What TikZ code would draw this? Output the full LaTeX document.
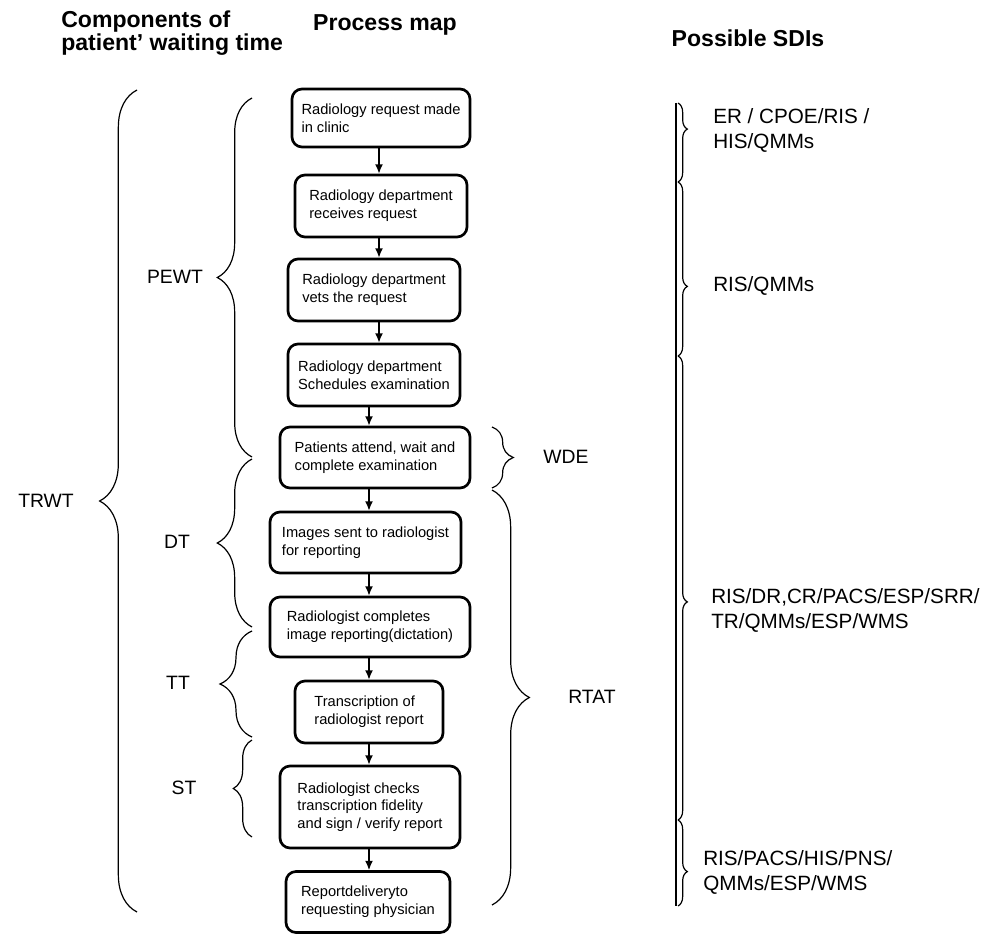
\documentclass[tikz,border=0pt]{standalone}
\usepackage{fontspec}
\setmainfont{Liberation Sans}
\usetikzlibrary{arrows.meta,decorations.pathreplacing}

\tikzset{
  proc/.style={draw, rounded corners=7.5pt, line width=2pt, align=left,
    font=\fontsize{11}{13.3}\selectfont, inner sep=0pt},
  flow/.style={line width=1.1pt, -{Latex[length=7pt,width=6pt]}},
  brc/.style={decorate, line width=0.9pt, decoration={brace, amplitude=#1}},
  tag/.style={font=\fontsize{14.5}{17}\selectfont, inner sep=0pt},
  sdi/.style={font=\fontsize{15.5}{18.75}\selectfont, inner sep=0pt, align=left, anchor=west},
  head/.style={font=\fontsize{17.3}{17}\selectfont\bfseries, inner sep=0pt, align=left}
}

\begin{document}
\begin{tikzpicture}[x=0.75pt, y=-0.75pt]
    \useasboundingbox (0,0) rectangle (1003,934);

    % Headings
    \node[head, anchor=west] (hcomp) at (61,33) {Components of\\patient’ waiting time};
    \node[head] (hmap) at (385,25) {Process map};
    \node[head] (hsdi) at (748,38) {Possible SDIs};

    % Process map
    \node[proc, minimum width=133.5pt, minimum height=43.5pt] (b1) at (381,118) {Radiology request made\\in clinic};
    \node[proc, minimum width=129pt, minimum height=46.5pt] (b2) at (381,206) {Radiology department\\receives request};
    \node[proc, minimum width=129pt, minimum height=46.5pt] (b3) at (374,290) {Radiology department\\vets the request};
    \node[proc, minimum width=129pt, minimum height=46.5pt] (b4) at (374,375) {Radiology department\\Schedules examination};
    \node[proc, minimum width=142.5pt, minimum height=45.75pt] (b5) at (375,457.5) {Patients attend, wait and\\complete examination};
    \node[proc, minimum width=143.25pt, minimum height=45.75pt] (b6) at (365.5,542.5) {Images sent to radiologist\\for reporting};
    \node[proc, minimum width=150pt, minimum height=45pt] (b7) at (370,627) {Radiologist completes\\image reporting(dictation)};
    \node[proc, minimum width=111pt, minimum height=46.5pt] (b8) at (369,712) {Transcription of\\radiologist report};
    \node[proc, minimum width=135pt, minimum height=61.5pt] (b9) at (370,807) {Radiologist checks\\transcription fidelity\\and sign / verify report};
    \node[proc, minimum width=123pt, minimum height=45.75pt] (b10) at (368,902) {Reportdeliveryto\\requesting physician};

    \coordinate (colA) at (379,0);
    \coordinate (colB) at (369,0);
    \foreach \u/\v/\c in {b1/b2/colA, b2/b3/colA, b3/b4/colA, b4/b5/colB, b5/b6/colB,
                          b6/b7/colB, b7/b8/colB, b8/b9/colB, b9/b10/colB}
        \draw[flow] (\u.south -| \c) -- (\v.north -| \c);

    % Components of waiting time
    \draw[brc=28pt] (137,912) -- (137,90);
    \draw[brc=26pt] (252,457) -- (252,98);
    \draw[brc=26pt] (252,627) -- (252,459);
    \draw[brc=24pt] (252,737) -- (252,631);
    \draw[brc=14pt] (252,837) -- (252,740);
    \node[tag] (trwt) at (46,501) {TRWT};
    \node[tag] (pewt) at (175,277) {PEWT};
    \node[tag] (dt) at (177,542) {DT};
    \node[tag] (tt) at (178,683) {TT};
    \node[tag] (st) at (184,788) {ST};

    \draw[brc=16pt] (492,427) -- (492,488);
    \draw[brc=28pt] (492,490) -- (492,905);
    \node[tag] (wde) at (566,457) {WDE};
    \node[tag] (rtat) at (592,697) {RTAT};

    % Possible SDIs
    \draw[line width=2pt] (676,103) -- (676,906);
    \foreach \t/\b/\a in {103/182/0.33, 182/356/0.6, 356/820/0.53, 820/906/0.6}
        \draw[brc=7pt, decoration={aspect=\a}] (678,\t) -- (678,\b);
    \node[sdi] (s1) at (713,130) {ER / CPOE/RIS /\\HIS/QMMs};
    \node[sdi] (s2) at (713,286) {RIS/QMMs};
    \node[sdi] (s3) at (711,610) {RIS/DR,CR/PACS/ESP/SRR/\\TR/QMMs/ESP/WMS};
    \node[sdi] (s4) at (703,872) {RIS/PACS/HIS/PNS/\\QMMs/ESP/WMS};
\end{tikzpicture}
\end{document}
